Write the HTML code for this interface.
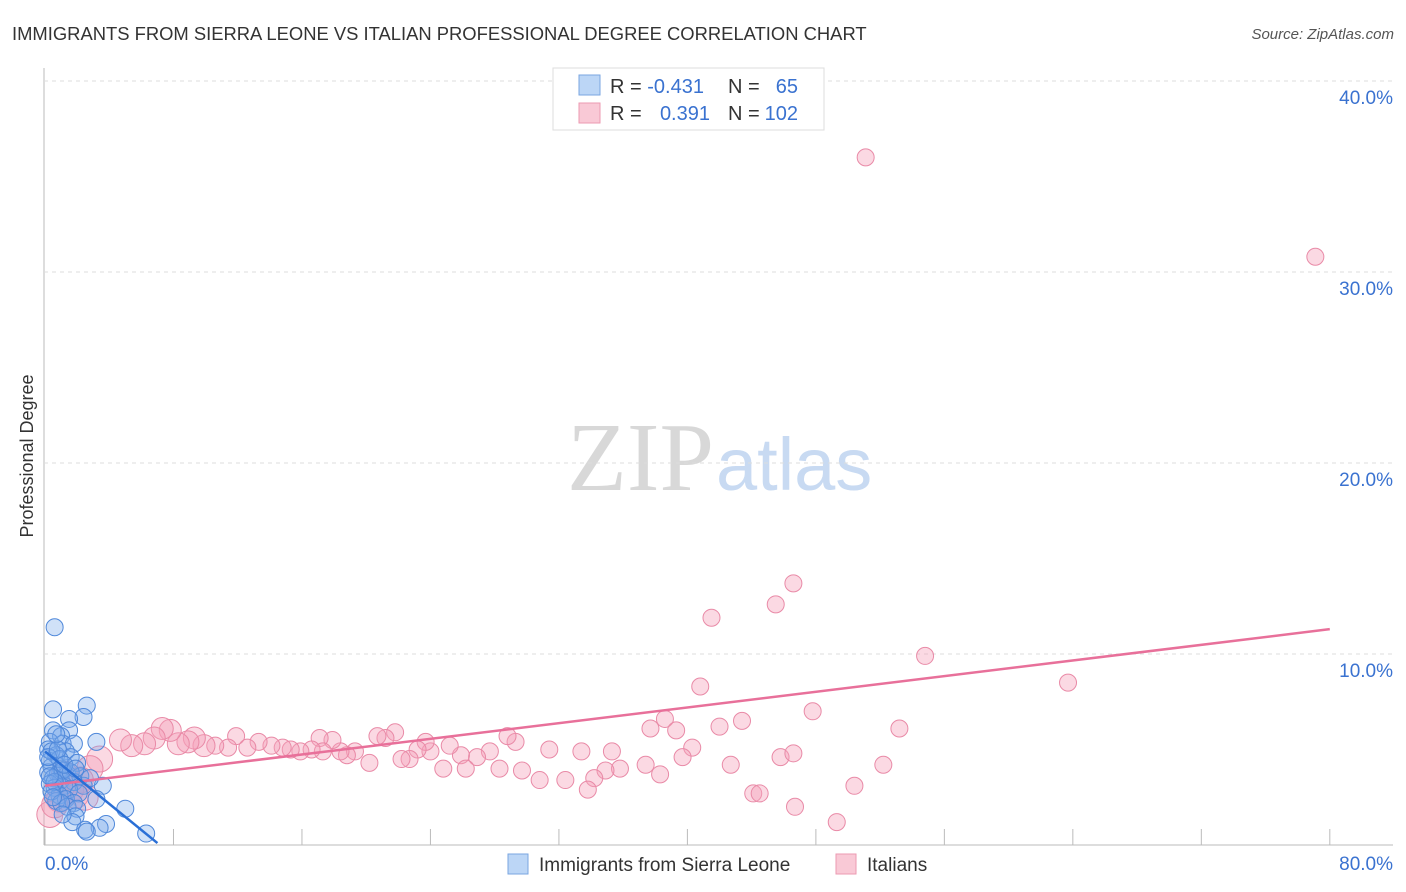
<!DOCTYPE html>
<html><head><meta charset="utf-8"><style>
body{margin:0;background:#fff;font-family:"Liberation Sans",sans-serif;}
svg{display:block}
</style></head><body>
<svg id="chart" width="1406" height="892">
<text x="12" y="40" font-size="18.4" fill="#333">IMMIGRANTS FROM SIERRA LEONE VS ITALIAN PROFESSIONAL DEGREE CORRELATION CHART</text>
<text x="1394" y="39" font-size="15" fill="#555" font-style="italic" text-anchor="end">Source: ZipAtlas.com</text>
<text x="33" y="456" font-size="18" fill="#333" text-anchor="middle" transform="rotate(-90 33 456)">Professional Degree</text>
<text x="714" y="490" font-size="98" fill="#d8d8d8" text-anchor="end" font-family="Liberation Serif,serif">ZIP</text>
<text x="716" y="490" font-size="74" fill="#c8daf2">atlas</text>
<g id="grid"></g><g id="pts"></g><g id="lines"></g>
<g>
<rect x="553" y="68" width="271" height="62" fill="#fff" stroke="#ddd"/>
<rect x="579" y="75" width="21" height="20" fill="#bcd6f6" stroke="#7aa6e0"/>
<rect x="579" y="103" width="21" height="20" fill="#f9c9d6" stroke="#ec9ab2"/>
<text x="610" y="93" font-size="20" fill="#333">R = <tspan fill="#3a72d0">-0.431</tspan></text>
<text x="728" y="93" font-size="20" fill="#333">N = </text><text x="798" y="93" font-size="20" fill="#3a72d0" text-anchor="end">65</text>
<text x="610" y="120" font-size="20" fill="#333">R = </text><text x="710" y="120" font-size="20" fill="#3a72d0" text-anchor="end">0.391</text>
<text x="728" y="120" font-size="20" fill="#333">N = </text><text x="798" y="120" font-size="20" fill="#3a72d0" text-anchor="end">102</text>
</g>
<g>
<rect x="508" y="854" width="20" height="20" fill="#bcd6f6" stroke="#7aa6e0"/>
<text x="539" y="871" font-size="19" fill="#333">Immigrants from Sierra Leone</text>
<rect x="836" y="854" width="20" height="20" fill="#f9c9d6" stroke="#ec9ab2"/>
<text x="867" y="871" font-size="19" fill="#333">Italians</text>
</g>
</svg>
<script>
const xTicks=[0,8,16,24,32,40,48,56,64,72,80];
const yTicks=[10,20,30,40];
const blueX=[0.6,0.5,2.6,2.4,1.5,0.5,1.5,1.0,0.3,1.1,1.8,3.2,0.2,1.3,0.7,1.6,0.3,2.0,0.4,1.0,0.2,0.8,1.4,2.2,0.5,1.0,1.8,0.3,1.2,2.4,3.6,0.6,1.5,2.1,0.9,1.3,3.2,1.8,0.7,1.4,2.0,5.0,1.9,1.7,3.8,3.4,2.5,2.6,6.3,0.4,0.9,1.1,0.6,0.2,1.6,0.8,1.2,0.4,1.0,2.8,0.3,1.9,0.5,1.1,0.7];
const blueY=[11.4,7.1,7.3,6.7,6.6,6.0,6.0,5.7,5.4,5.3,5.3,5.4,5.0,4.9,4.7,4.6,4.4,4.3,4.1,4.0,3.8,3.7,3.7,3.6,3.5,3.4,3.3,3.2,3.1,3.1,3.1,3.0,2.9,2.7,2.6,2.4,2.4,2.2,2.3,2.0,1.9,1.9,1.5,1.2,1.1,0.9,0.8,0.7,0.6,4.9,4.5,3.9,3.3,4.6,3.8,5.0,4.2,2.8,2.2,3.5,3.6,4.0,2.5,1.6,5.8];
const pinkX=[51.1,79.1,46.6,45.5,41.5,54.8,63.7,40.8,47.8,43.4,38.6,42.0,37.7,39.3,53.2,40.3,39.7,45.8,46.6,42.7,52.2,50.4,44.1,44.5,46.7,49.3,38.3,37.4,35.8,34.9,34.2,33.8,35.3,33.4,32.4,30.8,31.4,29.7,29.3,28.8,27.7,28.3,26.9,25.9,26.2,25.2,24.8,24.0,23.7,23.2,22.7,22.2,21.8,21.2,20.7,20.2,19.3,18.8,18.4,17.9,17.1,17.3,16.6,15.9,15.3,14.8,14.1,13.3,12.6,11.9,11.4,10.6,9.9,9.3,8.9,8.3,7.8,7.3,6.8,6.2,5.4,4.7,3.4,2.8,2.2,1.6,0.9,0.3,1.2,1.9,2.5,0.6];
const pinkY=[36.0,30.8,13.7,12.6,11.9,9.9,8.5,8.3,7.0,6.5,6.6,6.2,6.1,6.0,6.1,5.1,4.6,4.6,4.8,4.2,4.2,3.1,2.7,2.7,2.0,1.2,3.7,4.2,4.0,3.9,3.5,2.9,4.9,4.9,3.4,3.4,5.0,3.9,5.4,5.7,4.9,4.0,4.6,4.7,4.0,5.2,4.0,4.9,5.4,5.0,4.5,4.5,5.9,5.6,5.7,4.3,4.9,4.7,4.9,5.5,5.6,4.9,5.0,4.9,5.0,5.1,5.2,5.4,5.1,5.7,5.1,5.2,5.2,5.6,5.4,5.3,6.0,6.1,5.6,5.3,5.2,5.5,4.5,4.0,3.4,2.9,2.4,1.6,3.7,2.6,2.5,2.1];
const blueLine=[0,4.9,7.0,0.1];
const pinkLine=[0,3.1,80,11.3];
const NS='http://www.w3.org/2000/svg';
const X=v=>45+v*16.06, Y=v=>845-v*19.1;
function mk(t,a,p){const e=document.createElementNS(NS,t);for(const k in a)e.setAttribute(k,a[k]);document.getElementById(p).appendChild(e);return e;}
let e=mk('line',{x1:44,y1:68,x2:44,y2:845,stroke:'#bbb'},'grid');


e=mk('line',{x1:44,y1:845,x2:1393,y2:845,stroke:'#bbb'},'grid');


yTicks.forEach(t=>{
 e=mk('line',{x1:44,y1:Y(t),x2:1393,y2:Y(t),stroke:'#ddd','stroke-dasharray':'4,4'},'grid');
 
 
 e=mk('text',{x:1393,y:Y(t)+23,'font-size':19,fill:'#3a72d0','text-anchor':'end'},'grid');
 e.textContent=t.toFixed(1)+'%';
 
 
});
xTicks.forEach(t=>{
 e=mk('line',{x1:X(t),y1:829,x2:X(t),y2:845,stroke:'#bbb'},'grid');
 
 
});
e=mk('text',{x:45,y:870,'font-size':19,fill:'#3a72d0'},'grid');e.textContent=xTicks[0].toFixed(1)+'%';


e=mk('text',{x:1393,y:870,'font-size':19,fill:'#3a72d0','text-anchor':'end'},'grid');e.textContent=xTicks[xTicks.length-1].toFixed(1)+'%';


pinkX.forEach((v,i)=>{
 const r=v<10?(v<4?13:11):8.5;
 e=mk('circle',{cx:X(v),cy:Y(pinkY[i]),r:r,fill:'rgba(244,160,185,0.4)',stroke:'#e98aa7','stroke-width':1},'pts');
 
 
});
blueX.forEach((v,i)=>{
 e=mk('circle',{cx:X(v),cy:Y(blueY[i]),r:8.5,fill:'rgba(120,170,235,0.35)',stroke:'#4f88da','stroke-width':1},'pts');
 
 
});
e=mk('line',{x1:X(pinkLine[0]),y1:Y(pinkLine[1]),x2:X(pinkLine[2]),y2:Y(pinkLine[3]),stroke:'#e8709a','stroke-width':2.5},'lines');


e=mk('line',{x1:X(blueLine[0]),y1:Y(blueLine[1]),x2:X(blueLine[2]),y2:Y(blueLine[3]),stroke:'#2a6fd6','stroke-width':2.5},'lines');


</script>
</body></html>
